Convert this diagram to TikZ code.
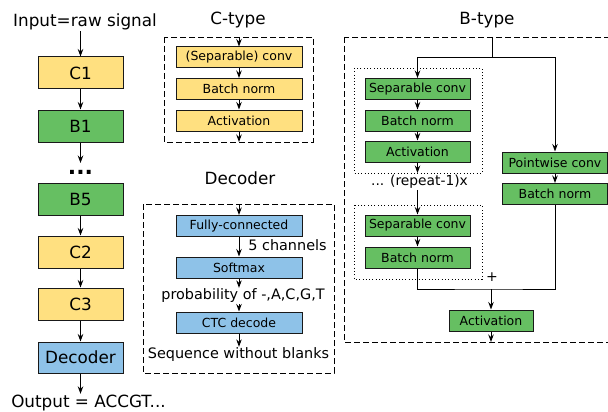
\documentclass[tikz,border=0pt]{standalone}
\usepackage{fontspec}
\setmainfont{DejaVu Sans}
\usetikzlibrary{arrows.meta}
\definecolor{cyel}{RGB}{255,224,128}
\definecolor{cgrn}{RGB}{102,191,98}
\definecolor{cblu}{RGB}{142,194,232}
\begin{document}
\begin{tikzpicture}[x=1pt,y=-1pt,
  bigfont/.style={font=\fontsize{16.8}{20}\selectfont},
  bigbox/.style={draw=black!90, line width=1pt, minimum width=85pt,
    minimum height=32pt, inner sep=0pt, bigfont},
  smallbox/.style={draw=black!90, line width=1pt, minimum width=126pt,
    minimum height=21pt, inner sep=0pt, font=\fontsize{12.5}{15}\selectfont},
  gbox/.style={smallbox, fill=cgrn, minimum width=105pt},
  arr/.style={-{Stealth[length=7.5pt,width=5.5pt,inset=2.5pt]}, line width=0.9pt},
  wire/.style={line width=0.9pt},
  frame/.style={line width=0.9pt, dash pattern=on 6pt off 3pt},
  dotframe/.style={line width=0.9pt, dash pattern=on 0.9pt off 2.4pt},
  lbl/.style={inner sep=1pt, bigfont},
  midlbl/.style={inner sep=1pt, font=\fontsize{14.4}{17}\selectfont}]
\useasboundingbox (0,0) rectangle (608,412);
\clip (0,0) rectangle (608,412);

% ---------------- main pipeline ----------------
\node[lbl] (in) at (85,22) {Input=raw signal};
\node[bigbox, fill=cyel] (c1) at (80.5,73) {C1};
\node[bigbox, fill=cgrn] (b1) at (80.5,126) {B1};
\node[inner sep=0pt, anchor=base, font=\fontsize{22}{24}\selectfont\bfseries] (dots) at (80.5,174) {...};
\coordinate (dotstop) at (80.5,163);
\node[bigbox, fill=cgrn] (b5) at (80.5,199) {B5};
\node[bigbox, fill=cyel] (c2) at (80.5,252) {C2};
\node[bigbox, fill=cyel] (c3) at (80.5,304) {C3};
\node[bigbox, fill=cblu, minimum height=31pt] (dec) at (80.5,357.5) {Decoder};
\node[lbl] (out) at (88.5,403) {Output = ACCGT...};

\draw[arr] (in.south -| c1.north) -- (c1);
\draw[arr] (c1) -- (b1);
\draw[arr] (b1) -- (dotstop);
\draw[arr] (b5) -- (c2);
\draw[arr] (c2) -- (c3);
\draw[arr] (c3) -- (dec);
\draw[arr] (dec.south) -- (dec.south |- out.north);

% ---------------- C-type block ----------------
\node[lbl] (ctitle) at (238,20) {C-type};
\draw[frame] (164,37) rectangle (313,142);
\coordinate (ctop) at (239,37);
\coordinate (cbot) at (239,142);
\node[smallbox, fill=cyel] (cconv) at (239,57.5) {(Separable) conv};
\node[smallbox, fill=cyel] (cbn) at (239,89) {Batch norm};
\node[smallbox, fill=cyel] (cact) at (239,120.5) {Activation};
\draw[arr] (ctop) -- (cconv);
\draw[arr] (cconv) -- (cbn);
\draw[arr] (cbn) -- (cact);
\draw[arr] (cact) -- (cbot);

% ---------------- Decoder block ----------------
\node[lbl] (dtitle) at (240,178) {Decoder};
\draw[frame] (143,204) rectangle (334,373);
\coordinate (dtop) at (239,204);
\node[smallbox, fill=cblu] (fc) at (239,226) {Fully-connected};
\node[smallbox, fill=cblu] (soft) at (239,267.5) {Softmax};
\node[smallbox, fill=cblu] (ctc) at (239,322.5) {CTC decode};
\node[midlbl] (chan) at (287.5,245) {5 channels};
\node[midlbl] (prob) at (243,296) {probability of -,A,C,G,T};
\node[midlbl] (seq) at (238.5,355) {Sequence without blanks};
\draw[arr] (dtop) -- (fc);
\draw[arr] (fc) -- (soft);
\draw[arr] (soft.south) -- (soft.south |- prob.north);
\draw[arr] (ctc.north |- prob.south) -- (ctc.north);
\draw[arr] (ctc.south) -- (ctc.south |- seq.north);

% ---------------- B-type block ----------------
\node[lbl] (btitle) at (487,20) {B-type};
\draw[frame] (344,37) rectangle (640,342);
\coordinate (btop) at (492,37);
\coordinate (bsplit) at (492,57);
\draw[dotframe] (354,68) rectangle (482,173);
\draw[dotframe] (354,205) rectangle (482,279);
\node[gbox] (bsep) at (417.5,89) {Separable conv};
\node[gbox] (bbn) at (417.5,120.5) {Batch norm};
\node[gbox] (bact) at (417.5,151.5) {Activation};
\coordinate (dot1bot) at (417.5,173);
\node[inner sep=1pt, font=\fontsize{13.8}{16}\selectfont] (rep) at (419.5,182) {... (repeat-1)x};
\node[gbox] (bsep2) at (417.5,225.5) {Separable conv};
\node[gbox] (bbn2) at (417.5,257.5) {Batch norm};
\node[gbox] (pw) at (555,162.5) {Pointwise conv};
\node[gbox] (pbn) at (555,194) {Batch norm};
\node[gbox, minimum width=84pt] (fact) at (491,320.5) {Activation};
\coordinate (sum) at (491,289);
\coordinate (bbot) at (491,342);
\node[inner sep=0pt, font=\fontsize{14}{16}\selectfont] (plus) at (492,277) {+};

\draw[wire] (btop) -- (bsplit);
\draw[arr] (bsplit) -| (bsep);
\draw[arr] (bsplit) -| (pw);
\draw[arr] (bsep) -- (bbn);
\draw[arr] (bbn) -- (bact);
\draw[arr] (bact) -- (dot1bot);
\draw[arr] (rep.south -| bsep2.north) -- (bsep2);
\draw[arr] (bsep2) -- (bbn2);
\draw[arr] (pw) -- (pbn);
\draw[wire] (bbn2.south) |- (sum) -| (pbn.south);
\draw[arr] (sum) -- (fact);
\draw[arr] (fact) -- (bbot);
\end{tikzpicture}
\end{document}
